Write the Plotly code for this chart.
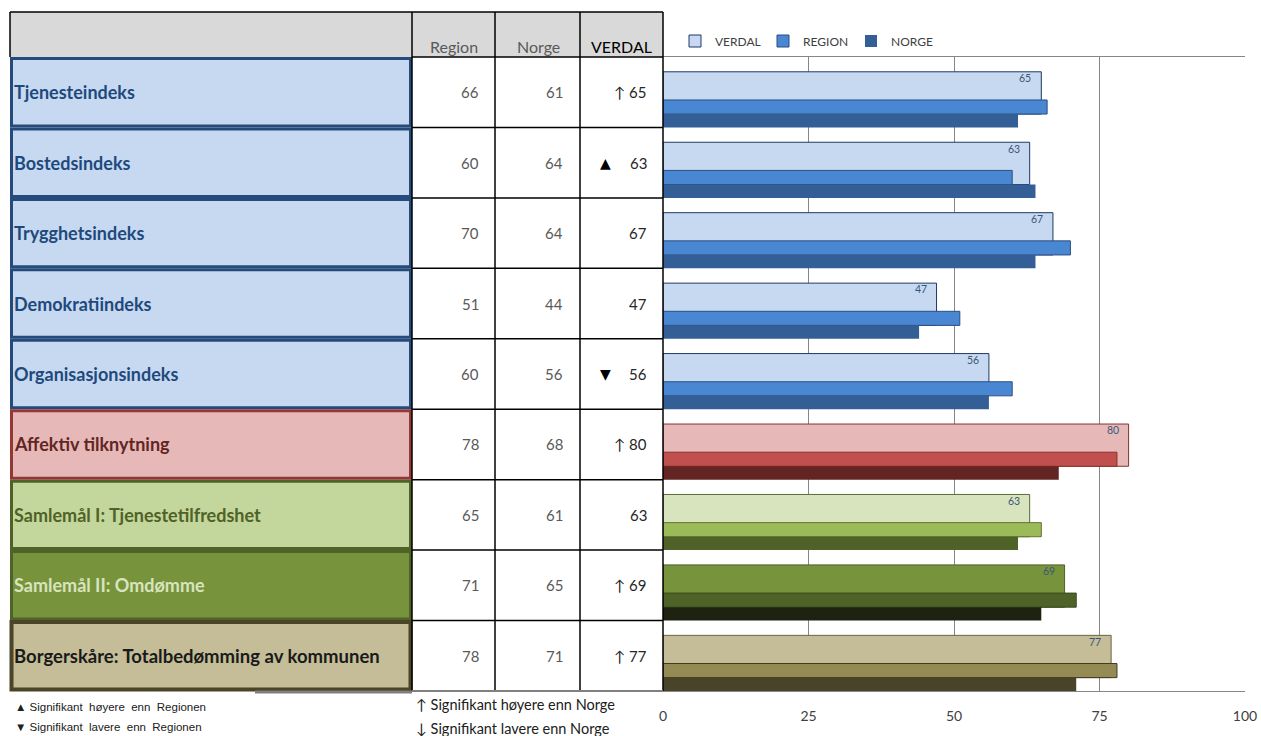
import plotly.graph_objects as go

# ---------------- data ----------------
categories = [
    "Tjenesteindeks",
    "Bostedsindeks",
    "Trygghetsindeks",
    "Demokratiindeks",
    "Organisasjonsindeks",
    "Affektiv tilknytning",
    "Samlemål I: Tjenestetilfredshet",
    "Samlemål II: Omdømme",
    "Borgerskåre: Totalbedømming av kommunen",
]
region = [66, 60, 70, 51, 60, 78, 65, 71, 78]
norge = [61, 64, 64, 44, 56, 68, 61, 65, 71]
verdal = [65, 63, 67, 47, 56, 80, 63, 69, 77]
verdal_marks = ["↑", "▲", "", "", "▼", "↑", "", "↑", "↑"]
x_ticks = [0, 25, 50, 75, 100]
column_headers = ["Region", "Norge", "VERDAL"]
series_names = ["VERDAL", "REGION", "NORGE"]
notes_region = ["▲ Signifikant  høyere  enn  Regionen", "▼ Signifikant  lavere  enn  Regionen"]
notes_norge = ["↑ Signifikant høyere enn Norge", "↓ Signifikant lavere enn Norge"]

# ---------------- styles ----------------
group_of_row = ["blue"] * 5 + ["red", "lgreen", "dgreen", "khaki"]
pal = {
    "blue":   dict(v="#C6D9F1", r="#4A87D2", n="#335F96", vl="#1F3864", rl="#2A4F80",
                   cell="#C6D9F1", border="#254A7C", text="#1F497D"),
    "red":    dict(v="#E6B9B8", r="#C0504D", n="#632523", vl="#7F3533", rl="#8B2E2C",
                   cell="#E6B9B8", border="#953735", text="#632523"),
    "lgreen": dict(v="#D7E4BD", r="#9BBB59", n="#4F6228", vl="#5A6A3A", rl="#5F7530",
                   cell="#C3D69B", border="#4F6228", text="#4F6228"),
    "dgreen": dict(v="#77933C", r="#4F6228", n="#1D2310", vl="#4F6228", rl="#3A4A1C",
                   cell="#77933C", border="#4F6228", text="#D7E4BD"),
    "khaki":  dict(v="#C4BD97", r="#948A54", n="#494429", vl="#6B6546", rl="#3F3A22",
                   cell="#C4BD97", border="#4A4528", text="#1A1A1A"),
}

W, H = 1261, 736
PX0, PX1 = 663, 1245   # plot area x (pixels)
PY0, PY1 = 57, 691     # plot area y (pixels)
N = len(categories)
RH = (PY1 - PY0) / N
FONT = "Lato"


def px(x):
    return x / W


def py(y):
    return 1 - y / H


def row_top(i):
    return PY0 + i * RH


def txt(x, y, text, size, color, anchor="left", family=FONT):
    return dict(x=px(x), y=py(y), xref="paper", yref="paper", text=text,
                showarrow=False, xanchor=anchor, yanchor="middle",
                font=dict(family=family, size=size, color=color))


fig = go.Figure()

ypos = list(range(N))
keys = ["v", "r", "n"]
lines = ["vl", "rl", None]
offsets = [-0.29, 0.11, 0.31]
widths = [0.60, 0.20, 0.19]
vals = [verdal, region, norge]
for name, k, lk, off, wd, v in zip(series_names, keys, lines, offsets, widths, vals):
    colors = [pal[g][k] for g in group_of_row]
    if lk:
        line = dict(color=[pal[g][lk] for g in group_of_row], width=1)
    else:
        line = dict(width=0)
    fig.add_trace(go.Bar(
        x=v, y=ypos, orientation="h", name=name,
        offset=off, width=wd,
        marker=dict(color=colors, line=line),
        hoverinfo="skip",
    ))

# value labels on VERDAL bars
for i, v in enumerate(verdal):
    fig.add_annotation(x=v, y=i - 0.2, xref="x", yref="y", text=str(v),
                       showarrow=False, xanchor="right", yanchor="middle", xshift=-8,
                       font=dict(family=FONT, size=10.5, color="#3B5778"))

shapes = []
annos = []
X = [10, 412, 495, 580, 663]
HT = 12

# header fill
shapes.append(dict(type="rect", xref="paper", yref="paper", x0=px(X[0]), x1=px(X[4]),
                   y0=py(PY0), y1=py(HT), fillcolor="#D9D9D9", line=dict(width=0), layer="below"))
# label cells
for i, g in enumerate(group_of_row):
    t, b = row_top(i), row_top(i + 1)
    c = (t + b) / 2
    lw = 4 if g == "khaki" else 3
    shapes.append(dict(type="rect", xref="paper", yref="paper",
                       x0=px(X[0] + 1.5), x1=px(X[1] - 1.5), y0=py(b - 1.5), y1=py(t + 1.5),
                       fillcolor=pal[g]["cell"], line=dict(color=pal[g]["border"], width=lw)))
    size = 18.5 if g == "khaki" else 18
    annos.append(txt(12, c, "<b>" + categories[i] + "</b>", size, pal[g]["text"]))
    annos.append(txt(481, c, str(region[i]), 15, "#595959", "right"))
    annos.append(txt(565, c, str(norge[i]), 15, "#595959", "right"))
    m = verdal_marks[i]
    if m in ("▲", "▼"):
        annos.append(txt(605, c, m, 14, "#000000", "center", "DejaVu Sans"))
        vt = str(verdal[i])
    elif m:
        vt = m + " " + str(verdal[i])
    else:
        vt = str(verdal[i])
    annos.append(txt(649, c, vt, 15, "#262626", "right"))

# table lines
blk = dict(color="#000000", width=1.5)
shapes.append(dict(type="line", xref="paper", yref="paper", x0=px(X[0]), x1=px(X[4]),
                   y0=py(HT), y1=py(HT), line=blk))
shapes.append(dict(type="line", xref="paper", yref="paper", x0=px(X[0]), x1=px(X[0]),
                   y0=py(HT), y1=py(PY0), line=blk))
for xx in X[1:]:
    shapes.append(dict(type="line", xref="paper", yref="paper", x0=px(xx), x1=px(xx),
                       y0=py(HT), y1=py(PY1), line=blk))
for i in range(N):
    yy = row_top(i)
    shapes.append(dict(type="line", xref="paper", yref="paper", x0=px(X[1]), x1=px(X[4]),
                       y0=py(yy), y1=py(yy), line=blk))
shapes.append(dict(type="line", xref="paper", yref="paper", x0=px(X[1]), x1=px(X[4]),
                   y0=py(PY1), y1=py(PY1), line=dict(color="#808080", width=2)))
shapes.append(dict(type="line", xref="paper", yref="paper", x0=px(255), x1=px(X[1]),
                   y0=py(PY1 + 1), y1=py(PY1 + 1), line=dict(color="#7F7F7F", width=3)))

# header texts
hx = [454, 538, 621]
hc = ["#595959", "#595959", "#000000"]
for h, x, cc in zip(column_headers, hx, hc):
    annos.append(txt(x, 46, h, 16, cc, "center"))

# notes
for j, t in enumerate(notes_region):
    annos.append(txt(13, 707 + j * 20, t, 11.5, "#202020", "left",
                     "Liberation Sans Narrow, Liberation Sans"))
for j, t in enumerate(notes_norge):
    annos.append(txt(414, 704 + j * 24, t, 14.5, "#202020", "left"))

fig.update_layout(
    width=W, height=H, autosize=False,
    margin=dict(l=0, r=0, t=0, b=0, pad=0, autoexpand=False),
    paper_bgcolor="white", plot_bgcolor="white",
    barmode="overlay",
    showlegend=True,
    legend=dict(orientation="h", x=px(675), y=py(41), xanchor="left", yanchor="middle",
                font=dict(family=FONT, size=12, color="#404040"),
                itemwidth=30, entrywidth=43, traceorder="normal", bgcolor="rgba(0,0,0,0)"),
    xaxis=dict(domain=[px(PX0), px(PX1)], range=[0, 100], tickvals=x_ticks,
               automargin=False,
               showgrid=True, gridcolor="#868686", gridwidth=1, zeroline=False,
               showline=True, mirror=True, linecolor="#868686", linewidth=1,
               ticks="", ticklabelstandoff=12, ticklabeloverflow="allow",
               tickfont=dict(family=FONT, size=14, color="#404040")),
    yaxis=dict(domain=[py(PY1), py(PY0)], range=[N - 0.5, -0.5], showticklabels=False,
               automargin=False,
               showgrid=False, zeroline=False, showline=False, ticks=""),
    shapes=shapes,
    annotations=list(fig.layout.annotations) + annos,
)

fig.write_html(
    "out.html",
    config={"responsive": False, "displayModeBar": False},
    post_script=(
        "document.documentElement.style.overflow='hidden';"
        "document.body.style.margin='0';document.body.style.overflow='hidden';"
    ),
)
